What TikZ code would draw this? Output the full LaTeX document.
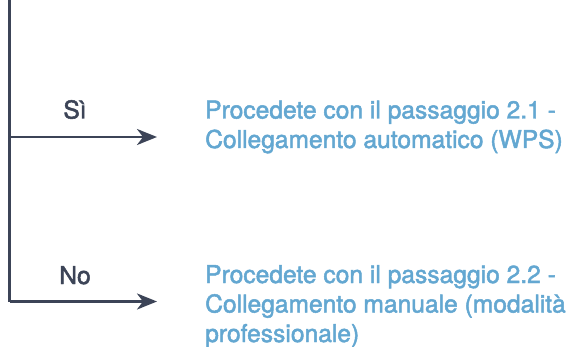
\documentclass[tikz,border=0pt]{standalone}
\usepackage{fontspec}
\setmainfont{TeX Gyre Heros}[FakeBold=2]
\usetikzlibrary{arrows.meta}
\definecolor{linegray}{HTML}{3C4457}
\definecolor{stepblue}{HTML}{63A7D1}
\tikzset{
  flow/.style={draw=linegray, line width=2.6pt},
  tip/.style={-{Stealth[length=20pt,width=16pt,inset=6pt]}},
  answer/.style={text=linegray, inner sep=0pt, anchor=base, font=\fontsize{24.6}{29.5}\selectfont},
  steptext/.style={text=stepblue, inner sep=0pt, anchor=base west, align=left, font=\fontsize{24.6}{29.5}\selectfont}
}
\begin{document}
\begin{tikzpicture}[x=1pt, y=-1pt]
\useasboundingbox (0,0) rectangle (572,347);

\coordinate (top) at (9.7,0);
\coordinate (yes) at (9.7,137);
\coordinate (yestip) at (157,137);
\coordinate (notip) at (157,301.5);

% branches
\draw[flow] (top) -- (yes |- notip);
\draw[flow, tip] (yes) -- (yestip);
\draw[flow, tip] (yes |- notip) -- (notip);

\node[answer] (si) at (75,118.5) {Sì};
\node[answer] (no) at (75,284) {No};

% base of a multi-line node is its last line
\node[steptext] (auto) at (205,148) {Procedete con il passaggio 2.1 -\\Collegamento automatico (WPS)};
\node[steptext] (manual) at (205,342) {Procedete con il passaggio 2.2 -\\Collegamento manuale (modalità\\professionale)};

\end{tikzpicture}
\end{document}
